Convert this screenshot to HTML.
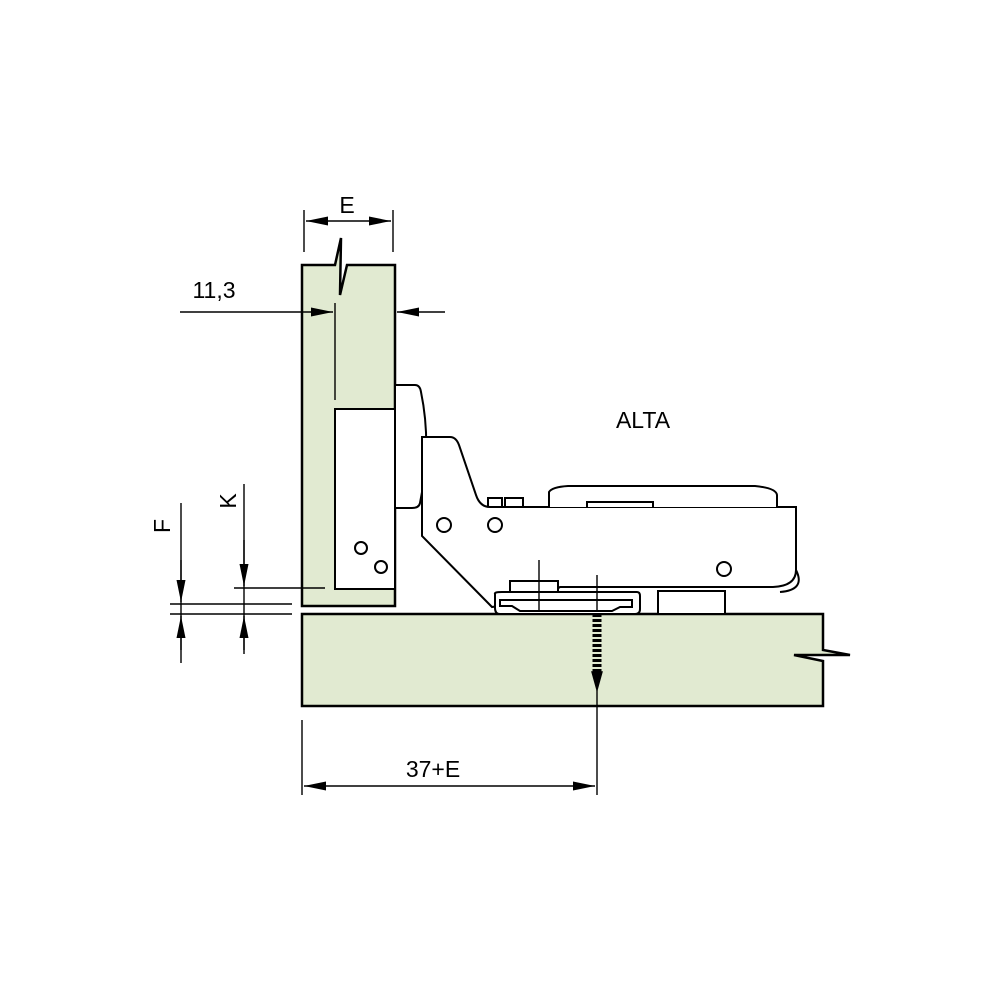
<!DOCTYPE html>
<html><head><style>body{margin:0;background:#fff}svg{display:block}</style></head><body>
<svg width="1000" height="1000" viewBox="0 0 1000 1000" xmlns="http://www.w3.org/2000/svg" font-family="'Liberation Sans','DejaVu Sans',sans-serif">
<defs>
<marker id="a" viewBox="0 0 10 6" refX="10" refY="3" markerWidth="22" markerHeight="9" markerUnits="userSpaceOnUse" orient="auto" preserveAspectRatio="none"><path d="M0,0L10,3L0,6z" fill="#000"/></marker>
</defs>
<g stroke="#000" stroke-width="2.5" fill="#e1ead1">
<path d="M302,265H335L341,238L340,295L347,265H395V606H302Z"/>
<path d="M302,614H823V650L850,655H794L823,661V706H302Z"/>
</g>
<g stroke="#000" stroke-width="2" fill="#fff">
<rect x="335" y="409" width="60" height="180"/>
<path d="M395,385H415Q420,385 421,392Q432,445 420,503Q419,508 412,508H395Z"/>
<path d="M422,437H450Q456,437 459,445L476,495Q480,507 490,507H796V570Q796,586 773,587H560L540,600L492,607L422,536Z"/>
<path d="M549,507V492Q552,487 568,486H755Q776,488 777,495V507"/>
<path d="M488,507V498H502V507M505,507V498H523V507" fill="none"/>
<path d="M587,507V502H653V507" fill="none"/>
<path d="M796,570Q806,590 780,592" fill="none"/>
<path d="M495,594Q494,592 502,592H637Q640,592 640,596V609Q640,614 635,614H500Q495,614 495,608Z"/>
<path d="M500,600H632V607L620,607L612,611H520L512,606H500Z" fill="none"/>
<rect x="510" y="581" width="48" height="11"/>
<rect x="658" y="591" width="67" height="23"/>
<circle cx="361" cy="548" r="6"/><circle cx="381" cy="567" r="6"/>
<circle cx="444" cy="525" r="7"/><circle cx="495" cy="525" r="7"/><circle cx="724" cy="569" r="7"/>
</g>
<g stroke="#000" stroke-width="1.4" fill="none">
<path d="M539,560V610M597,575V612M597,690V795M302,720V795M304,210V252M393,210V252M335,303V400M181,503V663M244,484V654M170,604H292M170,614H292M234,588H325"/>
<path d="M597,614V676" stroke-width="9" stroke-dasharray="3,2"/>
<path d="M592,672L597,690L602,672Z" fill="#000"/>
<line x1="340" y1="786" x2="304" y2="786" marker-end="url(#a)"/><line x1="340" y1="786" x2="595" y2="786" marker-end="url(#a)"/>
<line x1="340" y1="221" x2="306" y2="221" marker-end="url(#a)"/><line x1="340" y1="221" x2="391" y2="221" marker-end="url(#a)"/>
<line x1="180" y1="312" x2="333" y2="312" marker-end="url(#a)"/><line x1="445" y1="312" x2="397" y2="312" marker-end="url(#a)"/>
<line x1="181" y1="560" x2="181" y2="602" marker-end="url(#a)"/><line x1="181" y1="650" x2="181" y2="616" marker-end="url(#a)"/>
<line x1="244" y1="540" x2="244" y2="586" marker-end="url(#a)"/><line x1="244" y1="650" x2="244" y2="616" marker-end="url(#a)"/>
</g>
<g font-size="23" fill="#000">
<text x="643" y="428" text-anchor="middle">ALTA</text>
<text x="347" y="213" text-anchor="middle">E</text>
<text x="214" y="298" text-anchor="middle">11,3</text>
<text x="433" y="777" text-anchor="middle">37+E</text>
<text transform="translate(170,526) rotate(-90)" text-anchor="middle">F</text>
<text transform="translate(236,501) rotate(-90)" text-anchor="middle">K</text>
</g>
</svg>
</body></html>
